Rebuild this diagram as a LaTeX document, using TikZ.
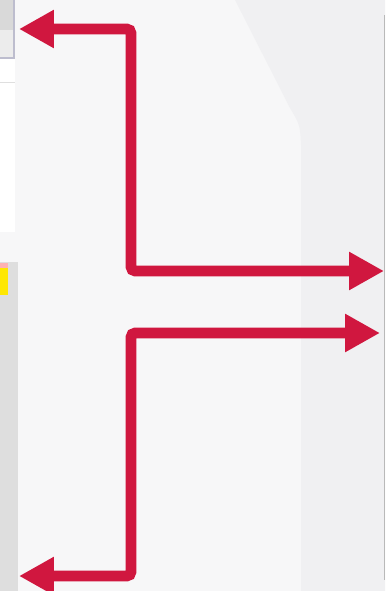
\documentclass[tikz,border=0pt]{standalone}
\usepackage{tikz}
\usetikzlibrary{arrows.meta}
\definecolor{arrowred}{HTML}{D0173F}
\definecolor{panelbg}{HTML}{F7F7F8}
\definecolor{sidebg}{HTML}{F0F0F2}
\definecolor{stripbg}{HTML}{DEDEDE}
\begin{document}
\begin{tikzpicture}[
          x=0.02cm, y=-0.02cm,
          redarrow/.style={draw=arrowred,line width=6.2pt,rounded corners=2.5pt,
            {Triangle[length=0.7cm,width=0.72cm]}-{Triangle[length=0.7cm,width=0.72cm]}},
        ]
        \useasboundingbox (0,0) rectangle (385,591);
        % background of the screenshot
        \fill[panelbg] (0,0) rectangle (385,591);
        \fill[sidebg] (235,0) -- (290,108) .. controls (300,125) .. (301,145)
          -- (301,591) -- (385,591) -- (385,0) -- cycle;
        \draw[gray!55,line width=0.5pt] (384,15) -- (384,580);
        % left border pieces
        \fill[white] (0,58) rectangle (15,232);
        \draw[gray!25] (0,82) -- (15,82);
        \fill[gray!30] (0,0) rectangle (14,30);
        \fill[gray!15] (0,30) rectangle (14,58);
        \draw[blue!15!gray!45,line width=0.8pt] (14,0) -- (14,58) -- (0,58);
        \fill[stripbg] (0,262) rectangle (18,591);
        \fill[yellow!90!orange] (0,268) rectangle (8,295);
        \fill[red!30] (0,263) rectangle (8,268);
        % arrows
        \coordinate (tipA)  at (19,29);
        \coordinate (bendA) at (131,29);
        \coordinate (bendB) at (131,271);
        \coordinate (tipB)  at (384,271);
        \coordinate (tipC)  at (380,333);
        \coordinate (bendC) at (131,333);
        \coordinate (bendD) at (131,576);
        \coordinate (tipD)  at (19,576);
        \draw[redarrow] (tipA) -- (bendA) -- (bendB) -- (tipB);
        \draw[redarrow] (tipC) -- (bendC) -- (bendD) -- (tipD);
      \end{tikzpicture}
\end{document}
